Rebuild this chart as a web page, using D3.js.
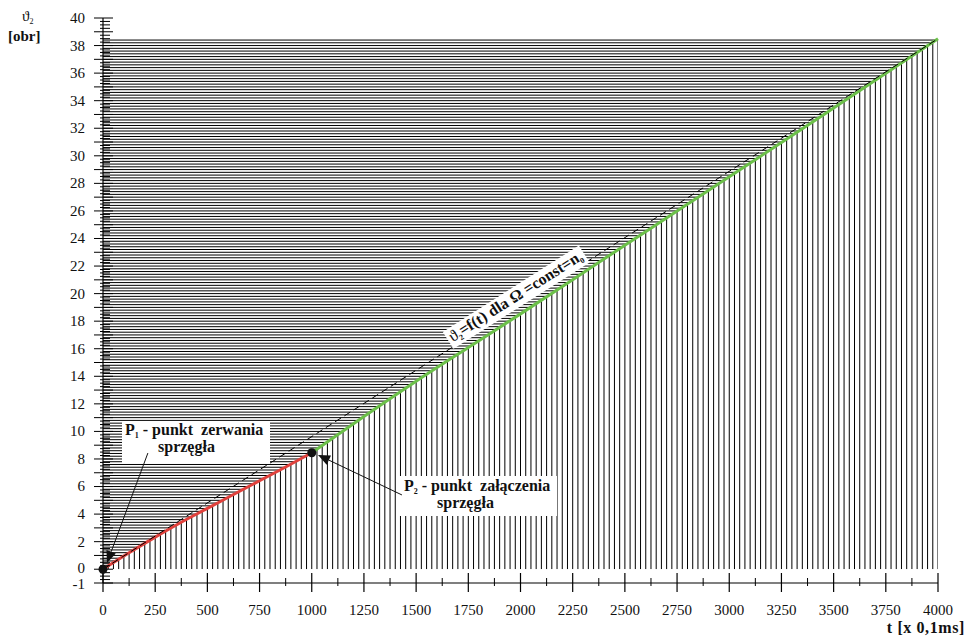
<!DOCTYPE html>
<html>
<head>
<meta charset="utf-8">
<script src="https://cdn.jsdelivr.net/npm/d3@7"></script>
<style>
  body { margin: 0; background: #fff; }
  svg { display: block; }
  text { font-family: "Liberation Serif", "Times New Roman", "DejaVu Serif", serif; fill: #111; }
  .bold { font-weight: bold; }
</style>
</head>
<body>
<svg id="chart" width="966" height="638"></svg>
<script>
// ϑ2(t) before the clutch disengages (red) and after it re-engages (green)
const tRed      = [0, 125, 250, 375, 500, 625, 750, 875, 1000];
const thetaRed  = [0, 1.19, 2.33, 3.41, 4.41, 5.42, 6.42, 7.42, 8.45];
const tGreen     = [1000, 1250, 1500, 1750, 2000, 2250, 2500, 2750, 3000, 3250, 3500, 3750, 4000];
const thetaGreen = [8.45, 11.08, 13.64, 16.09, 18.53, 21.01, 23.51, 25.99, 28.48, 30.96, 33.47, 35.99, 38.5];
// reference course for constant speed Ω = n0
const tRef     = [0, 4000];
const thetaRef = [0, 38.5];
// axis ticks
const xTickLabels = [0, 250, 500, 750, 1000, 1250, 1500, 1750, 2000, 2250, 2500, 2750, 3000, 3250, 3500, 3750, 4000];
const yTickLabels = [-1, 0, 2, 4, 6, 8, 10, 12, 14, 16, 18, 20, 22, 24, 26, 28, 30, 32, 34, 36, 38, 40];
// marked points P1 and P2
const pointT     = [0, 1000];
const pointTheta = [0, 8.45];

const svg = d3.select("#chart");
const x = d3.scaleLinear().domain([0, 4000]).range([103, 938]);
const y = d3.scaleLinear().domain([-1, 40]).range([583, 18]);

const redPts = tRed.map((t, i) => [t, thetaRed[i]]);
const greenPts = tGreen.map((t, i) => [t, thetaGreen[i]]);
const allPts = redPts.concat(greenPts.slice(1));

const line = d3.line().x(d => x(d[0])).y(d => y(d[1])).curve(d3.curveMonotoneX);

// clip regions: below the course (vertical hatching) and left of it (horizontal hatching)
const defs = svg.append("defs");
const under = d3.area().x(d => x(d[0])).y0(y(0)).y1(d => y(d[1])).curve(d3.curveMonotoneX);
defs.append("clipPath").attr("id", "clipUnder")
  .append("path").attr("d", under(allPts));
const last = allPts[allPts.length - 1];
defs.append("clipPath").attr("id", "clipLeft")
  .append("path").attr("d", line(allPts) + `L${x(last[0])},${y(40)}L${x(0)},${y(40)}Z`);

// vertical hatching every 25 units of t
svg.append("g").attr("clip-path", "url(#clipUnder)")
  .selectAll("line").data(d3.range(0, 4001, 25)).join("line")
  .attr("x1", d => x(d)).attr("x2", d => x(d))
  .attr("y1", y(0)).attr("y2", y(40))
  .attr("stroke", "#000").attr("stroke-width", 1);

// horizontal hatching every 0.2 rev
svg.append("g").attr("clip-path", "url(#clipLeft)")
  .selectAll("line").data(d3.range(1, 193).map(k => k * 0.2)).join("line")
  .attr("x1", x(0)).attr("x2", x(4000))
  .attr("y1", d => y(d)).attr("y2", d => y(d))
  .attr("stroke", "#000").attr("stroke-width", 1);

// curves
svg.append("path").attr("d", line(redPts))
  .attr("fill", "none").attr("stroke", "#e0413c").attr("stroke-width", 3);
svg.append("path").attr("d", line(greenPts))
  .attr("fill", "none").attr("stroke", "#6cc04a").attr("stroke-width", 3);

// dashed reference line
svg.append("line")
  .attr("x1", x(tRef[0])).attr("y1", y(thetaRef[0]))
  .attr("x2", x(tRef[1])).attr("y2", y(thetaRef[1]))
  .attr("stroke", "#000").attr("stroke-width", 1).attr("stroke-dasharray", "7,4");

// Y axis
const yAxis = svg.append("g");
yAxis.append("line").attr("x1", x(0)).attr("x2", x(0)).attr("y1", y(40)).attr("y2", y(-1))
  .attr("stroke", "#000").attr("stroke-width", 1.2);
yAxis.selectAll("line.minor").data(d3.range(-4, 161).map(k => k / 4).filter(v => v % 1 !== 0))
  .join("line").attr("class", "minor")
  .attr("x1", x(0) - 3).attr("x2", x(0) + 7)
  .attr("y1", d => y(d)).attr("y2", d => y(d))
  .attr("stroke", "#000").attr("stroke-width", 1);
yAxis.selectAll("line.major").data(d3.range(-1, 41))
  .join("line").attr("class", "major")
  .attr("x1", x(0) - 9).attr("x2", x(0) + 10)
  .attr("y1", d => y(d)).attr("y2", d => y(d))
  .attr("stroke", "#000").attr("stroke-width", 1);
yAxis.selectAll("text").data(yTickLabels).join("text")
  .attr("x", 85)
  .attr("y", d => y(d) + (d === 0 ? -1.5 : d === -1 ? 1 : 0))
  .attr("dy", "0.33em")
  .attr("text-anchor", "end").attr("font-size", 15)
  .text(d => d);

// X axis
const xAxis = svg.append("g");
xAxis.append("line").attr("x1", x(0)).attr("x2", x(4000)).attr("y1", y(-1)).attr("y2", y(-1))
  .attr("stroke", "#000").attr("stroke-width", 1.2);
xAxis.selectAll("line.minor").data(d3.range(125, 4000, 250)).join("line").attr("class", "minor")
  .attr("x1", d => x(d)).attr("x2", d => x(d))
  .attr("y1", y(-1) - 5).attr("y2", y(-1) + 3)
  .attr("stroke", "#000").attr("stroke-width", 1);
xAxis.selectAll("line.major").data(xTickLabels).join("line").attr("class", "major")
  .attr("x1", d => x(d)).attr("x2", d => x(d))
  .attr("y1", y(-1) - 10).attr("y2", y(-1) + 9)
  .attr("stroke", "#000").attr("stroke-width", 1.2);
xAxis.selectAll("text").data(xTickLabels).join("text")
  .attr("x", d => x(d)).attr("y", 615)
  .attr("text-anchor", "middle").attr("font-size", 15)
  .text(d => d);

// axis titles
const yt = svg.append("text").attr("x", 22).attr("y", 21).attr("font-size", 15);
yt.append("tspan").text("ϑ");
yt.append("tspan").attr("font-size", 8).attr("dy", 3).text("2");
svg.append("text").attr("class", "bold").attr("x", 8).attr("y", 41).attr("font-size", 15).text("[obr]");
svg.append("text").attr("class", "bold").attr("x", 965).attr("y", 633)
  .attr("text-anchor", "end").attr("font-size", 16).attr("letter-spacing", 0.6).text("t [x 0,1ms]");

// label along the reference line
const ang = Math.atan2(y(thetaRef[1]) - y(thetaRef[0]), x(tRef[1]) - x(tRef[0])) * 180 / Math.PI;
const refLabel = svg.append("g")
  .attr("transform", `translate(${x(2000)},${y(thetaRef[1] * 2000 / 4000)}) rotate(${ang})`);
const refBg = refLabel.append("rect").attr("fill", "#fff");
const refText = refLabel.append("text").attr("class", "bold").attr("x", 0).attr("y", -4)
  .attr("text-anchor", "middle").attr("font-size", 16);
refText.append("tspan").attr("font-weight", "normal").text("ϑ");
refText.append("tspan").attr("font-size", 8).attr("dy", 3).text("2");
refText.append("tspan").attr("dy", -3).text("=f(t) dla Ω =const=n");
refText.append("tspan").attr("font-size", 8).attr("dy", 3).text("0");
{
  const b = refText.node().getBBox();
  refBg.attr("x", b.x - 3).attr("y", b.y).attr("width", b.width + 6).attr("height", b.height + 1);
}

// callout boxes
function callout(bx, by, bw, bh, lines, sub) {
  svg.append("rect").attr("x", bx).attr("y", by).attr("width", bw).attr("height", bh).attr("fill", "#fff");
  const t1 = svg.append("text").attr("class", "bold").attr("x", lines[0].x).attr("y", lines[0].y)
    .attr("font-size", 16).style("white-space", "pre");
  t1.append("tspan").text("P");
  t1.append("tspan").attr("font-size", 8).attr("dy", 3).text(sub);
  t1.append("tspan").attr("dy", -3).text(" - punkt  " + lines[0].rest);
  svg.append("text").attr("class", "bold").attr("x", lines[1].x).attr("y", lines[1].y)
    .attr("font-size", 16).text("sprzęgła");
}
callout(122, 422, 148, 41, [{x: 125, y: 435, rest: "zerwania"}, {x: 158, y: 452}], "1");
callout(398, 476, 159, 40, [{x: 404, y: 491, rest: "załączenia"}, {x: 437, y: 508}], "2");

// arrows pointing at P1 and P2 (data coordinates)
function arrow(t0, v0, t1, v1) {
  const x0 = x(t0), y0 = y(v0), x1 = x(t1), y1 = y(v1);
  const dx = x1 - x0, dy = y1 - y0, L = Math.hypot(dx, dy);
  const ux = dx / L, uy = dy / L, hl = 12, hw = 5;
  const bxp = x1 - ux * hl, byp = y1 - uy * hl;
  svg.append("line").attr("x1", x0).attr("y1", y0).attr("x2", bxp).attr("y2", byp)
    .attr("stroke", "#111").attr("stroke-width", 1);
  svg.append("path")
    .attr("d", `M${x1},${y1}L${bxp - uy * hw},${byp + ux * hw}L${bxp + uy * hw},${byp - ux * hw}Z`)
    .attr("fill", "#111");
}
arrow(215, 8.43, 19, 0.45);
arrow(1432, 5.39, 1030, 8.29);

// points P1, P2
svg.selectAll("circle.pt").data(pointT.map((t, i) => [t, pointTheta[i]])).join("circle")
  .attr("class", "pt").attr("cx", d => x(d[0])).attr("cy", d => y(d[1])).attr("r", 4.5)
  .attr("fill", "#111");
</script>
</body>
</html>
